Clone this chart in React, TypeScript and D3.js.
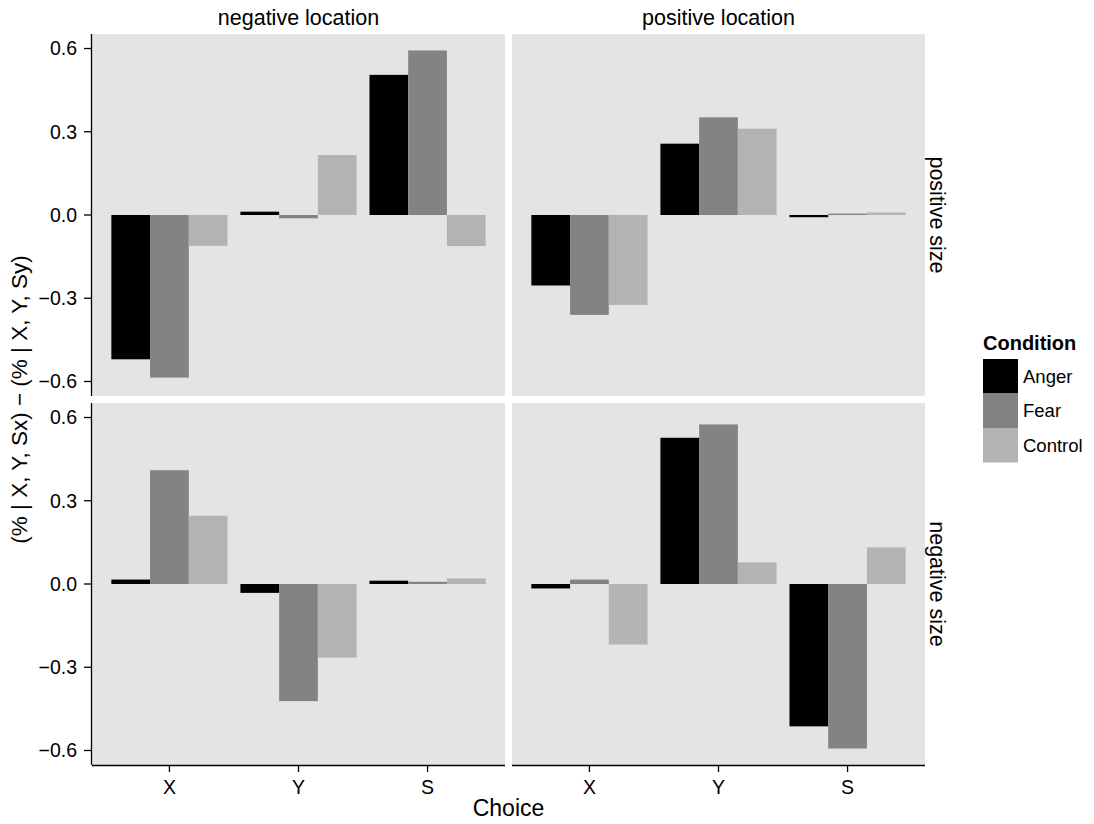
import React from "react";
import * as d3 from "d3";

const choices = ["X", "Y", "S"];
const conditions = ["Anger", "Fear", "Control"];
const conditionColors = ["#000000", "#838383", "#b3b3b3"];
const locations = ["negative location", "positive location"];
const sizes = ["positive size", "negative size"];

// values[choice] = [Anger, Fear, Control]
const negLocPosSize = [
  [-0.52, -0.586, -0.111],
  [0.012, -0.012, 0.216],
  [0.505, 0.593, -0.112],
];
const posLocPosSize = [
  [-0.254, -0.36, -0.324],
  [0.257, 0.352, 0.311],
  [-0.008, 0.005, 0.009],
];
const negLocNegSize = [
  [0.016, 0.41, 0.246],
  [-0.032, -0.422, -0.265],
  [0.012, 0.008, 0.02],
];
const posLocNegSize = [
  [-0.016, 0.016, -0.218],
  [0.527, 0.575, 0.078],
  [-0.513, -0.593, 0.132],
];

const yTicks = [-0.6, -0.3, 0.0, 0.3, 0.6];

const panels = [
  { row: 0, col: 0, data: negLocPosSize },
  { row: 0, col: 1, data: posLocPosSize },
  { row: 1, col: 0, data: negLocNegSize },
  { row: 1, col: 1, data: posLocNegSize },
];

const FONT = "'Liberation Sans', Arial, Helvetica, sans-serif";

export default function App() {
  const W = 1094, H = 824;
  const colX = [92, 512];
  const panelW = 413;
  const rowY = [34, 403];
  const panelH = 362;

  const all = [...negLocPosSize, ...posLocPosSize, ...negLocNegSize, ...posLocNegSize].flat();
  const lo = Math.min(0, d3.min(all) as number);
  const hi = Math.max(0, d3.max(all) as number);
  const pad = (hi - lo) * 0.05;

  const x = d3.scaleLinear().domain([0.4, 3.6]).range([0, panelW]);
  const y = d3.scaleLinear().domain([lo - pad, hi + pad]).range([panelH, 0]);
  const barW = x(0.3) - x(0);

  return (
    <svg width={W} height={H} style={{ position: "absolute", left: 0, top: 0, background: "#fff" }} fontFamily={FONT}>
      <rect width={W} height={H} fill="#fff" />
      {panels.map((p, i) => {
        const ox = colX[p.col], oy = rowY[p.row];
        return (
          <g key={i} transform={`translate(${ox},${oy})`}>
            <rect width={panelW} height={panelH} fill="#e4e4e4" />
            {p.data.map((vals, ci) =>
              vals.map((v, k) => {
                const cx = x(ci + 1) + (k - 1) * barW;
                const y0 = y(0), y1 = y(v);
                return (
                  <rect
                    key={`${ci}-${k}`}
                    x={cx - barW / 2}
                    y={Math.min(y0, y1)}
                    width={barW}
                    height={Math.abs(y1 - y0)}
                    fill={conditionColors[k]}
                  />
                );
              })
            )}
            {p.col === 0 && (
              <g>
                <line x1={-0.5} x2={-0.5} y1={0} y2={panelH} stroke="#000" strokeWidth={1.3} />
                {yTicks.map((t) => (
                  <g key={t} transform={`translate(0,${y(t)})`}>
                    <line x1={-8} x2={0} stroke="#000" strokeWidth={1.3} />
                    <text x={-15} dy="0.35em" textAnchor="end" fontSize={19.5} fill="#000">
                      {t === 0 ? "0.0" : t < 0 ? `\u2212${Math.abs(t).toFixed(1)}` : t.toFixed(1)}
                    </text>
                  </g>
                ))}
              </g>
            )}
            {p.row === 1 && (
              <g>
                <line x1={0} x2={panelW} y1={panelH + 0.5} y2={panelH + 0.5} stroke="#000" strokeWidth={1.3} />
                {choices.map((c, ci) => (
                  <g key={c} transform={`translate(${x(ci + 1)},${panelH})`}>
                    <line y1={0} y2={7} stroke="#000" strokeWidth={1.3} />
                    <text y={29} textAnchor="middle" fontSize={19.5} fill="#000">{c}</text>
                  </g>
                ))}
              </g>
            )}
          </g>
        );
      })}
      {locations.map((l, i) => (
        <text key={l} x={colX[i] + panelW / 2} y={25} textAnchor="middle" fontSize={21.5} fill="#000">{l}</text>
      ))}
      {sizes.map((s, i) => (
        <text
          key={s}
          transform={`translate(${colX[1] + panelW + 5},${rowY[i] + panelH / 2}) rotate(90)`}
          textAnchor="middle"
          fontSize={21.5}
          fill="#000"
        >
          {s}
        </text>
      ))}
      <text
        transform={`translate(27,${(rowY[0] + rowY[1] + panelH) / 2}) rotate(-90)`}
        textAnchor="middle"
        fontSize={22.5}
        fill="#000"
      >
        (% | X, Y, Sx) − (% | X, Y, Sy)
      </text>
      <text x={(colX[0] + colX[1] + panelW) / 2} y={816} textAnchor="middle" fontSize={23} fill="#000">Choice</text>
      <g transform="translate(983,350)">
        <text x={0} y={0} fontSize={20} fontWeight="bold" fill="#000">Condition</text>
        {conditions.map((c, k) => (
          <g key={c} transform={`translate(0,${9 + k * 34.5})`}>
            <rect width={35} height={34.5} fill={conditionColors[k]} />
            <text x={40} y={17.5} dy="0.35em" fontSize={18.5} fill="#000">{c}</text>
          </g>
        ))}
      </g>
    </svg>
  );
}
